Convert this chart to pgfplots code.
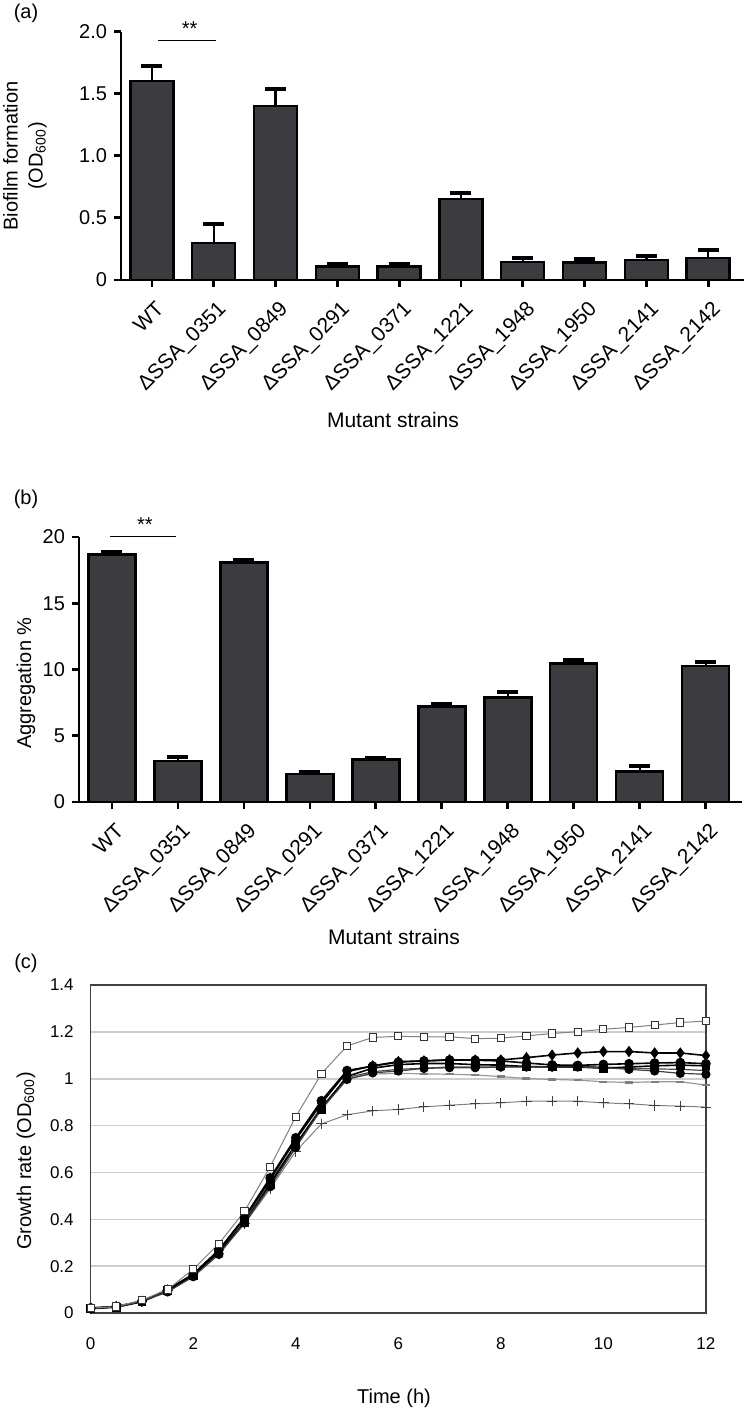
\documentclass[border=0pt]{standalone}
\usepackage{pgfplots}
\pgfplotsset{compat=1.18}
\usepackage{pgfplotstable}
\usepackage{fontspec}
\setmainfont{Liberation Sans}

\definecolor{barfill}{RGB}{60,60,64}
\definecolor{gridc}{RGB}{205,205,205}

\pgfplotstableread{
x y e
0 1.60 0.12
1 0.30 0.15
2 1.40 0.14
3 0.11 0.02
4 0.11 0.02
5 0.65 0.05
6 0.145 0.035
7 0.14 0.03
8 0.16 0.03
9 0.175 0.065
}\biofilm

\pgfplotstableread{
x y e
0 18.68 0.22
1 3.08 0.33
2 18.08 0.15
3 2.13 0.13
4 3.20 0.13
5 7.20 0.18
6 7.90 0.40
7 10.45 0.25
8 2.31 0.38
9 10.25 0.35
}\aggreg

\pgfplotstableread{
t s1 s2 s3 s4 s5 s6 s7 s8
0 0.020 0.020 0.022 0.018 0.020 0.020 0.020 0.020
0.5 0.028 0.027 0.028 0.025 0.026 0.027 0.027 0.027
1 0.055 0.050 0.050 0.048 0.050 0.050 0.050 0.050
1.5 0.100 0.098 0.100 0.095 0.090 0.095 0.095 0.097
2 0.187 0.165 0.166 0.160 0.155 0.160 0.160 0.162
2.5 0.296 0.268 0.269 0.260 0.250 0.260 0.255 0.262
3 0.434 0.405 0.408 0.385 0.384 0.390 0.380 0.395
3.5 0.624 0.570 0.577 0.550 0.539 0.550 0.530 0.560
4 0.838 0.740 0.748 0.720 0.706 0.710 0.690 0.720
4.5 1.021 0.895 0.906 0.870 0.870 0.870 0.807 0.880
5 1.140 1.030 1.035 1.010 0.997 1.000 0.846 1.005
5.5 1.176 1.055 1.054 1.045 1.025 1.020 0.863 1.030
6 1.181 1.073 1.071 1.060 1.033 1.023 0.869 1.040
6.5 1.179 1.076 1.076 1.065 1.044 1.021 0.880 1.045
7 1.179 1.081 1.080 1.065 1.047 1.019 0.887 1.050
7.5 1.171 1.080 1.079 1.060 1.047 1.016 0.893 1.050
8 1.173 1.080 1.076 1.058 1.050 1.009 0.897 1.050
8.5 1.183 1.090 1.067 1.052 1.050 1.001 0.904 1.052
9 1.193 1.101 1.059 1.050 1.050 0.997 0.904 1.050
9.5 1.201 1.110 1.057 1.050 1.050 0.994 0.904 1.052
10 1.211 1.116 1.061 1.045 1.048 0.987 0.897 1.050
10.5 1.219 1.116 1.064 1.050 1.040 0.984 0.893 1.045
11 1.229 1.110 1.067 1.055 1.033 0.987 0.886 1.042
11.5 1.240 1.110 1.069 1.058 1.023 0.987 0.883 1.040
12 1.246 1.099 1.064 1.055 1.019 0.973 0.879 1.035
}\growth

\pgfplotsset{
  /pgf/number format/assume math mode=true,
  barax/.style={
    scale only axis,
    axis x line=bottom, axis y line=left,
    axis line style={line width=1.4pt, -},
    tick align=outside,
    major tick length=3.5pt,
    every tick/.style={line width=1.4pt, black},
    xtick={0,...,9},
    xticklabels={WT,ΔSSA\_0351,ΔSSA\_0849,ΔSSA\_0291,ΔSSA\_0371,ΔSSA\_1221,ΔSSA\_1948,ΔSSA\_1950,ΔSSA\_2141,ΔSSA\_2142},
    xticklabel style={rotate=45, anchor=north east, yshift=-2pt, font=\fontsize{10.5}{12.5}\selectfont},
    yticklabel style={font=\fontsize{10}{12}\selectfont},
    clip=false,
    ymin=0,
  },
  barplot/.style={
    ybar, fill=barfill, draw=black, line width=1.2pt,
    error bars/y dir=plus, error bars/y explicit,
    error bars/error bar style={line width=1.2pt, black},
    error bars/error mark options={rotate=90, line width=2pt, mark size=5.25pt, black},
  },
}

\begin{document}
\begin{tikzpicture}
\path[use as bounding box] (0pt,0pt) rectangle (372pt,-705.5pt);

% ---------------- (a)
\node[font=\fontsize{10}{12}\selectfont] at (13pt,-6.5pt) {(a)};
\begin{axis}[barax,
  at={(60.5pt,-140pt)}, anchor=south west,
  width=311.5pt, height=124.2pt,
  xmin=-0.5, xmax=9.58, ymax=2,
  ytick={0,0.5,1,1.5,2}, yticklabels={0,0.5,1.0,1.5,2.0}]
\addplot[barplot, bar width=21.5pt] table[x=x, y=y, y error=e] {\biofilm};
\draw[line width=0.6pt] (axis cs:0.1,1.927) -- (axis cs:1.04,1.927);
\node[font=\fontsize{10}{12}\selectfont] at (axis cs:0.61,2.02) {**};
\end{axis}
\node[rotate=90, align=center, font=\fontsize{10}{12.5}\selectfont] at (12.5pt,-78pt) {Biofilm formation\\(OD\textsubscript{600})};
\node[font=\fontsize{10.5}{12}\selectfont] at (196.5pt,-210pt) {Mutant strains};

% ---------------- (b)
\node[font=\fontsize{10}{12}\selectfont] at (13pt,-249.5pt) {(b)};
\begin{axis}[barax,
  at={(39.5pt,-401pt)}, anchor=south west,
  width=331.5pt, height=132.5pt,
  xmin=-0.5, xmax=9.55, ymax=20,
  ytick={0,5,10,15,20}]
\addplot[barplot, bar width=23.5pt] table[x=x, y=y, y error=e] {\aggreg};
\draw[line width=0.6pt] (axis cs:-0.03,20.03) -- (axis cs:0.97,20.03);
\node[font=\fontsize{10}{12}\selectfont] at (axis cs:0.5,20.9) {**};
\end{axis}
\node[rotate=90, font=\fontsize{10}{12}\selectfont] at (13pt,-341.5pt) {Aggregation \%};
\node[font=\fontsize{10.5}{12}\selectfont] at (197pt,-468.5pt) {Mutant strains};

% ---------------- (c)
\node[font=\fontsize{10}{12}\selectfont] at (13pt,-481.5pt) {(c)};
\begin{axis}[scale only axis,
  at={(45.35pt,-656.5pt)}, anchor=south west,
  width=307.6pt, height=164pt,
  xmin=0, xmax=12, ymin=0, ymax=1.4,
  xtick={0,2,4,6,8,10,12},
  ytick={0,0.2,0.4,0.6,0.8,1,1.2,1.4},
  ymajorgrids, grid style={gridc, line width=0.8pt},
  major tick length=0pt,
  axis line style={black!75, line width=0.7pt},
  tick label style={font=\fontsize{8.5}{10}\selectfont},
  xticklabel style={yshift=-9pt},
  yticklabel style={xshift=-5pt},
  clip=false]
\addplot[gray, line width=0.5pt, mark=+, mark size=2.6pt, mark options={black!75, line width=0.5pt}] table[x=t, y=s7] {\growth};
\addplot[gray!80, line width=0.6pt, mark=-, mark size=2pt, mark options={gray, line width=1.2pt}] table[x=t, y=s6] {\growth};
\addplot[black!70, line width=0.6pt, mark=diamond, mark size=2pt, mark options={fill=white, black}] table[x=t, y=s8] {\growth};
\addplot[black, line width=0.8pt, mark=square*, mark size=1.8pt] table[x=t, y=s4] {\growth};
\addplot[black, line width=0.8pt, mark=diamond*, mark size=2.2pt] table[x=t, y=s2] {\growth};
\addplot[black, line width=0.8pt, mark=*, mark size=2pt] table[x=t, y=s3] {\growth};
\addplot[black!75, line width=0.6pt, mark=*, mark size=2pt, mark options={fill=white, black}] table[x=t, y=s5] {\growth};
\addplot[gray, line width=0.5pt, mark=square*, mark size=1.8pt, mark options={fill=white, draw=black!80, line width=0.5pt}] table[x=t, y=s1] {\growth};
\end{axis}
\node[rotate=90, font=\fontsize{10}{12}\selectfont] at (13pt,-580.5pt) {Growth rate (OD\textsubscript{600})};
\node[font=\fontsize{10}{12}\selectfont] at (197pt,-699pt) {Time (h)};
\end{tikzpicture}
\end{document}
